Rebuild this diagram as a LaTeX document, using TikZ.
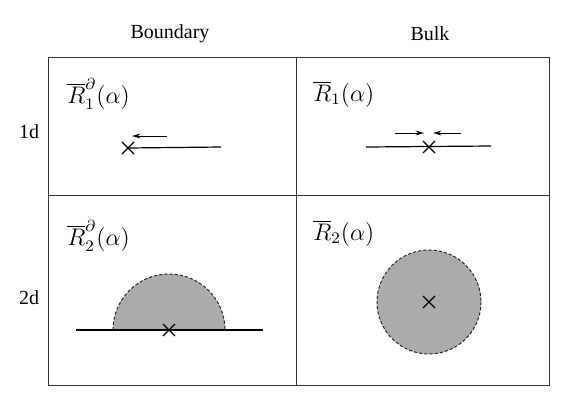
\documentclass[tikz,border=0pt]{standalone}
\usepackage{fontspec}
\setmainfont{Liberation Serif}
\usetikzlibrary{arrows.meta,calc}
\begin{document}
\begin{tikzpicture}[x=0.5pt,y=-0.5pt,
  frame/.style={draw=black!80, line width=0.5pt},
  hdr/.style={font=\fontsize{10}{12}\selectfont, inner sep=0pt},
  lbl/.style={font=\fontsize{11.5}{13}\selectfont, anchor=west, inner sep=0pt},
  seg/.style={line width=0.6pt},
  flow/.style={line width=0.5pt, -{Stealth[length=4.2pt,width=2.4pt]}},
  region/.style={fill=black!33, draw=black!85, line width=0.5pt, dash pattern=on 1.6pt off 1pt},
  xmark/.style={line width=0.6pt}]
\useasboundingbox (0,0) rectangle (581,417);
% table
\draw[frame] (48,58) rectangle (549,385);
\draw[frame] (296,58) -- (296,385);
\draw[frame] (48,195) -- (549,195);
% headers
\node[hdr] (hb) at (170,34) {Boundary};
\node[hdr] (hk) at (430,34) {Bulk};
\node[hdr] (r1) at (29,132) {1d};
\node[hdr] (r2) at (29,298) {2d};
% labels
\node[lbl] (l11) at (67,94) {$\overline{R}^{\partial}_1(\alpha)$};
\node[lbl] (l12) at (313,94) {$\overline{R}_1(\alpha)$};
\node[lbl] (l21) at (67,236) {$\overline{R}^{\partial}_2(\alpha)$};
\node[lbl] (l22) at (313,233) {$\overline{R}_2(\alpha)$};
% boundary 1d
\coordinate (p1) at (128,148);
\coordinate (e1) at (221,147);
\draw[seg] (p1) -- (e1);
\coordinate (a1s) at (167,136);
\coordinate (a1e) at (132,136);
\draw[flow] (a1s) -- (a1e);
\draw[xmark] ($(p1)+(-6,-6)$) -- ($(p1)+(6,6)$) ($(p1)+(-6,6)$) -- ($(p1)+(6,-6)$);
% bulk 1d
\coordinate (p2) at (429,147);
\coordinate (b2s) at (366,147);
\coordinate (b2e) at (491,146);
\draw[seg] (b2s) -- (b2e);
\coordinate (a2s) at (395,133);
\coordinate (a2e) at (424,133);
\coordinate (a3s) at (461,133);
\coordinate (a3e) at (433,133);
\draw[flow] (a2s) -- (a2e);
\draw[flow] (a3s) -- (a3e);
\draw[xmark] ($(p2)+(-6,-6)$) -- ($(p2)+(6,6)$) ($(p2)+(-6,6)$) -- ($(p2)+(6,-6)$);
% boundary 2d
\coordinate (p3) at (169,330);
\coordinate (c3l) at (113,330);
\fill[black!33] (c3l) arc[start angle=180, end angle=360, radius=56] -- cycle;
\draw[region, fill=none] (c3l) arc[start angle=180, end angle=360, radius=56];
\coordinate (l3s) at (76,330);
\coordinate (l3e) at (263,330);
\draw[seg] (l3s) -- (l3e);
\draw[xmark] ($(p3)+(-6,-6)$) -- ($(p3)+(6,6)$) ($(p3)+(-6,6)$) -- ($(p3)+(6,-6)$);
% bulk 2d
\coordinate (p4) at (429,302);
\draw[region] (p4) circle[radius=52];
\draw[xmark] ($(p4)+(-6,-6)$) -- ($(p4)+(6,6)$) ($(p4)+(-6,6)$) -- ($(p4)+(6,-6)$);
\end{tikzpicture}
\end{document}
